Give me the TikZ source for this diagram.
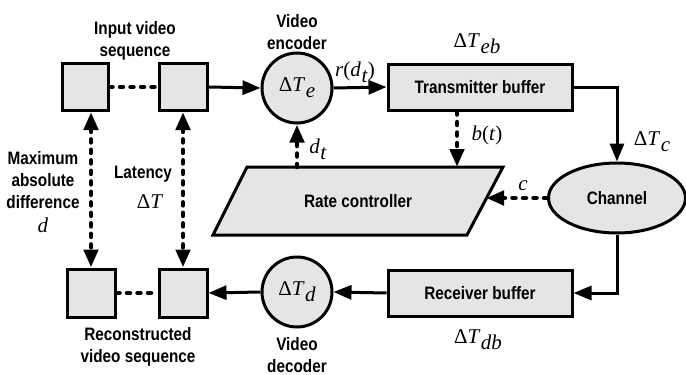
\documentclass[tikz,border=0pt]{standalone}
\usepackage{fontspec}
\setmainfont{Liberation Sans}[FakeStretch=0.85]
\newfontfamily\tms{Liberation Serif}
\usetikzlibrary{arrows.meta,shapes.geometric}
\newcommand{\mT}[1]{{\tms Δ\textit{T}\kern0.5pt\raisebox{-6pt}{\textit{#1}}}}
\newcommand{\mv}[2]{{\tms\textit{#1}\kern0.5pt\raisebox{-6pt}{\textit{#2}}}}
\begin{document}
\begin{tikzpicture}[x=1pt,y=-1pt,
  box/.style={draw,line width=3pt,fill=black!10,inner sep=0pt},
  sq/.style={box,minimum width=46pt,minimum height=47pt},
  buf/.style={box,minimum width=184pt,minimum height=46pt,font=\fontsize{18}{20}\selectfont\bfseries},
  circ/.style={draw,line width=3pt,fill=black!10,circle,minimum size=70pt,inner sep=0pt},
  lab/.style={font=\fontsize{18}{22}\selectfont\bfseries,align=center,inner sep=0pt},
  mlab/.style={font=\fontsize{21}{24}\selectfont,inner sep=0pt},
  arr/.style={line width=3pt,-{Triangle[length=18pt,width=14pt]}},
  darr/.style={line width=4.5pt,line cap=round,dash pattern=on 3pt off 7.5pt,-{Triangle[length=18pt,width=14pt,line cap=butt]}},
  ddarr/.style={line width=4.5pt,line cap=round,dash pattern=on 3pt off 7.5pt,{Triangle[length=18pt,width=14pt,line cap=butt]}-{Triangle[length=18pt,width=14pt,line cap=butt]}},
  dline/.style={line width=4.5pt,line cap=round,dash pattern=on 3pt off 7.5pt}]
\useasboundingbox (0,0) rectangle (686,375);
% nodes
\node[sq] (sq1) at (85,87) {};
\node[sq,minimum width=48pt] (sq2) at (183,87) {};
\node[circ] (enc) at (297,88) {};
\node[mlab] at (enc) {\mT{e}};
\node[buf] (tx) at (480,87) {Transmitter buffer};
\node[draw,line width=3pt,fill=black!10,ellipse,minimum width=137pt,minimum height=70pt,inner sep=0pt,font=\fontsize{18}{20}\selectfont\bfseries] (ch) at (617,198) {Channel};
\filldraw[line width=3pt,fill=black!10,line join=miter] (247,167) -- (503,167) -- (467,235) -- (213,235) -- cycle;
\node[lab] (rc) at (358,201) {Rate controller};
\coordinate (rcTop) at (297,167);
\coordinate (bt) at (457,167);
\coordinate (rcR) at (486,198);
\node[buf] (rx) at (480,293) {Receiver buffer};
\node[circ] (dec) at (297,292) {};
\node[mlab] at (dec) {\mT{d}};
\node[sq,minimum width=48pt,minimum height=48pt] (sq3) at (91,293) {};
\node[sq,minimum width=48pt,minimum height=48pt] (sq4) at (183,293) {};
% connectors
\draw[arr] (sq2.east) -- (enc.west);
\draw[arr] (enc.east) -- (tx.west);
\draw[arr] (tx.east) -| (ch.north);
\draw[arr] (ch.south) |- (rx.east);
\draw[arr] (rx.west) -- (dec.east);
\draw[arr] (dec.west) -- (sq4.east);
\draw[dline] (sq1.east) -- (sq2.west);
\draw[dline] (sq3.east) -- (sq4.west);
\draw[ddarr] (sq3.north |- sq1.south) -- (sq3.north);
\draw[ddarr] (sq2.south) -- (sq4.north);
\draw[darr] (rcTop) -- (enc.south);
\draw[darr] (bt |- tx.south) -- (bt);
\draw[darr] (ch.west) -- (rcR);
% labels
\node[lab] at (135,41) {Input video\\sequence};
\node[lab] at (297,32) {Video\\encoder};
\node[mlab] at (355,72) {{\tms\textit{r}(\mv{d}{t})}};
\node[mlab] at (477,44) {\mT{eb}};
\node[mlab] at (652,142) {\mT{c}};
\node[mlab] at (487,135) {{\tms\textit{b}(\textit{t})}};
\node[mlab] at (318,149) {\mv{d}{t}};
\node[mlab] at (523,186) {{\tms\textit{c}}};
\node[mlab] at (478,340) {\mT{db}};
\node[lab] at (297,355) {Video\\decoder};
\node[lab] at (138,347) {Reconstructed\\video sequence};
\node[lab] at (43,180) {Maximum\\absolute\\difference};
\node[mlab] at (43,225) {{\tms\textit{d}}};
\node[lab] at (143,174) {Latency};
\node[mlab] at (150,202) {{\tms Δ\textit{T}}};
\end{tikzpicture}
\end{document}
